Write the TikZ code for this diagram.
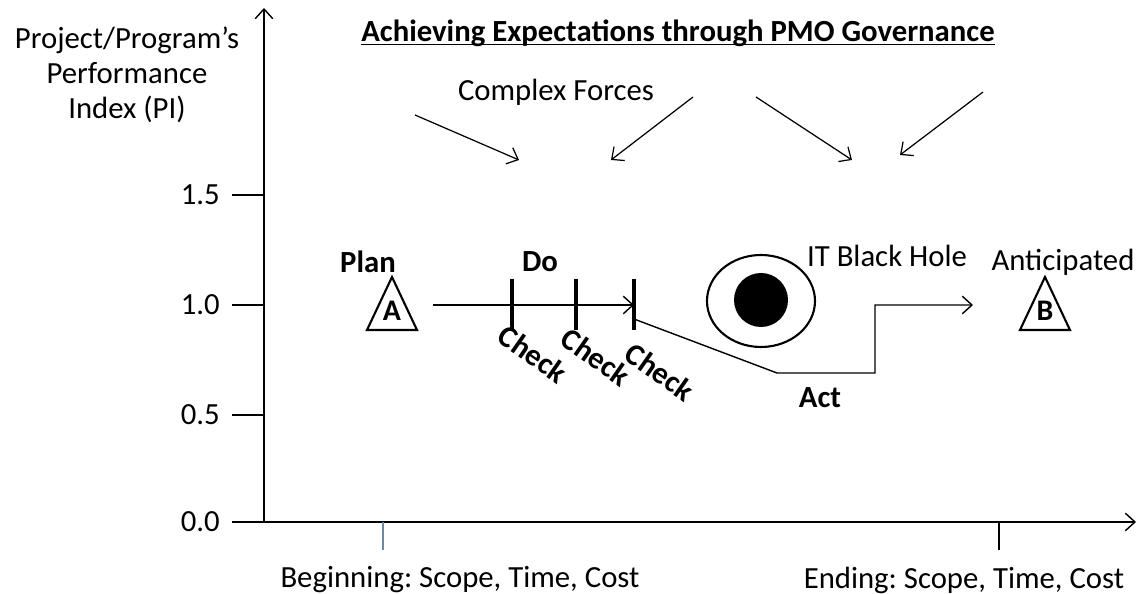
\documentclass[tikz,border=0pt]{standalone}
\usepackage{fontspec}
\setmainfont{Carlito}
\usetikzlibrary{positioning,arrows.meta}
\frenchspacing

\definecolor{tickblue}{RGB}{110,135,165}

% small triangle milestone marker with a letter inside
\newcommand{\milestone}[3]{%
  \draw[line width=1.2pt, line join=miter] (#2-25,330) -- (#2,277) -- (#2+25,330) -- cycle;
  \node[font=\fontsize{17}{18}\selectfont\bfseries] (#1) at (#2,311) {#3};
}

\begin{document}
\begin{tikzpicture}[x=0.02cm, y=-0.02cm, font=\fontsize{17.5}{19.5}\selectfont,
  >={Straight Barb[length=5.5pt,width=10pt]},
  axis/.style={->, line width=0.8pt},
  force/.style={->, line width=0.7pt},
  bold/.style={font=\fontsize{17.5}{19.5}\selectfont\bfseries},
  checktick/.style={line width=1.8pt}]
  \useasboundingbox (0,0) rectangle (1144,594);

  % axes
  \coordinate (O) at (264,522);
  \draw[axis] (O) -- (264,8);
  \draw[axis] (O) -- (1136,522);
  \foreach \y/\v in {195/1.5, 305/1.0, 415/0.5, 522/0.0} {
    \draw[line width=0.8pt] (232,\y) -- (264,\y);
    \node[anchor=east] at (226,\y) {\v};
  }
  \draw[line width=0.6pt, tickblue] (383,522) -- (383,550);
  \draw[line width=0.6pt] (999,522) -- (999,550);
  \node (begin) at (460,580) {Beginning: Scope, Time, Cost};
  \node (end) at (964,580) {Ending: Scope, Time, Cost};
  \node[align=center, font=\fontsize{17.5}{19.5}\selectfont] (ylab) at (127,75)
    {Project/Program's\\[0.5pt]Performance\\[0.5pt]Index (PI)};

  % title (underline kept close to the baseline) and forces
  \node[bold, inner sep=0pt] (title) at (678,33) {Achieving Expectations through PMO Governance};
  \draw[line width=0.8pt] ([yshift=-2pt]title.base west) -- ([yshift=-2pt]title.base east);
  \node (forces) at (556,92) {Complex Forces};
  \draw[force] (415,115) -- (519,160);
  \draw[force] (693,97) -- (611,160);
  \draw[force] (756,97) -- (852,160);
  \draw[force] (983,92) -- (900,155);

  % start and end points
  \milestone{A}{392}{A}
  \milestone{B}{1045}{B}
  \node[bold] (plan) at (368,262) {Plan};
  \node (antic) at (1063,262) {Anticipated};

  % plan - do - check
  \node[bold] (do) at (540,262) {Do};
  \coordinate (c1) at (512,305);
  \coordinate (c2) at (576,305);
  \coordinate (c3) at (634,305);
  \draw[->, line width=0.8pt] (433,305) -- (c3);
  \foreach \c in {c1,c2,c3}
    \draw[checktick] ([yshift=15]\c) -- ([yshift=-14]\c);
  \node[bold, rotate=-35, inner sep=0pt] (ck1) at (533,354) {Check};
  \node[bold, rotate=-35, inner sep=0pt] (ck2) at (596,357) {Check};
  \node[bold, rotate=-35, inner sep=0pt] (ck3) at (660,372) {Check};

  % black hole
  \draw[line width=1.2pt] (761,301) ellipse [x radius=54, y radius=46];
  \fill (761,300) circle [radius=27];
  \node (hole) at (887,256) {IT Black Hole};

  % act: detour round the hole
  \draw[->, line width=0.8pt] (634,319) -- (777,373) -- (875,373) -- (875,305) -- (973,305);
  \node[bold] (act) at (820,398) {Act};
\end{tikzpicture}
\end{document}
